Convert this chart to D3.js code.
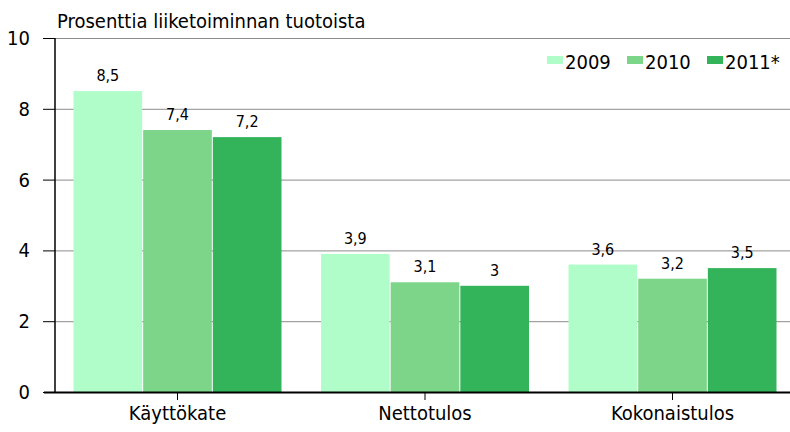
<!DOCTYPE html>
<html><head><meta charset="utf-8">
<script src="https://cdn.jsdelivr.net/npm/d3@7/dist/d3.min.js"></script>
<style>body{margin:0;background:#fff}svg{display:block}text{font-family:"DejaVu Sans Condensed","Liberation Sans",Arial,sans-serif}</style>
</head><body><svg id="c" width="790" height="432"></svg>
<script>
const categories = ["Käyttökate", "Nettotulos", "Kokonaistulos"];
const years = ["2009", "2010", "2011*"];
const values2009 = [8.5, 3.9, 3.6];
const values2010 = [7.4, 3.1, 3.2];
const values2011 = [7.2, 3.0, 3.5];
const yTicks = [0, 2, 4, 6, 8, 10];
const colors = ["#b1fdc9", "#7dd589", "#33b45a"];
const series = [values2009, values2010, values2011];

(function () {
const svg = d3.select("#c");
const mLeft = 55, mRight = 795, mTop = 38, mBottom = 392;
const y = d3.scaleLinear().domain([0, 10]).range([mBottom, mTop]);
const x0 = d3.scaleBand().domain(categories).range([mLeft, mRight]).paddingInner(0.1556).paddingOuter(0.0727);
const x1 = d3.scaleBand().domain(years).range([0, x0.bandwidth()]);

// grid
svg.append("g").selectAll("line").data(yTicks.filter(d => d > 0)).join("line")
  .attr("x1", mLeft).attr("x2", 790).attr("y1", d => y(d) + 0.5).attr("y2", d => y(d) + 0.5)
  .attr("stroke", "#8c8c8c").attr("stroke-width", 1);

// bars
const g = svg.append("g");
categories.forEach((c, ci) => {
  years.forEach((yr, si) => {
    const v = series[si][ci];
    g.append("rect")
      .attr("x", x0(c) + x1(yr) + 0.5)
      .attr("width", x1.bandwidth() - 1)
      .attr("y", y(v))
      .attr("height", y(0) - y(v))
      .attr("fill", colors[si]);
    g.append("text")
      .attr("x", x0(c) + x1(yr) + x1.bandwidth() / 2)
      .attr("y", y(v) - 10)
      .attr("text-anchor", "middle")
      .attr("font-size", 16).attr("fill", "#000")
      .text(String(v).replace(".", ","));
  });
});

// y axis
const yAxis = d3.axisLeft(y).tickValues(yTicks).tickSize(12).tickPadding(13).tickFormat(d => d);
const ya = svg.append("g").attr("transform", `translate(${mLeft},0)`).call(yAxis);
ya.select(".domain").remove();
ya.selectAll("line").attr("stroke", "#000");
ya.selectAll("text").attr("font-size", 20).attr("fill", "#000")
  .style("font-family", "'DejaVu Sans Condensed',sans-serif");
svg.append("line").attr("x1", mLeft).attr("x2", mLeft).attr("y1", mTop).attr("y2", mBottom)
  .attr("stroke", "#000").attr("stroke-width", 1.5);

// x axis
const xAxis = d3.axisBottom(x0).tickSize(8).tickPadding(6);
const xa = svg.append("g").attr("transform", `translate(0,${mBottom})`).call(xAxis);
xa.select(".domain").remove();
xa.selectAll("line").attr("stroke", "#000");
xa.selectAll("text").attr("font-size", 20).attr("fill", "#000")
  .style("font-family", "'DejaVu Sans Condensed',sans-serif");
svg.append("line").attr("x1", 44).attr("x2", 790).attr("y1", mBottom + 0.5).attr("y2", mBottom + 0.5)
  .attr("stroke", "#000").attr("stroke-width", 2);

// title
svg.append("text").attr("x", 57).attr("y", 28).attr("font-size", 20).attr("fill", "#000")
  .text("Prosenttia liiketoiminnan tuotoista");

// legend
const legX = [547, 627, 707];
years.forEach((yr, i) => {
  svg.append("rect").attr("x", legX[i]).attr("y", 56).attr("width", 16).attr("height", 8).attr("fill", colors[i]);
  svg.append("text").attr("x", legX[i] + 18).attr("y", 69).attr("font-size", 20).attr("fill", "#000").text(yr);
});
})();
</script></body></html>
